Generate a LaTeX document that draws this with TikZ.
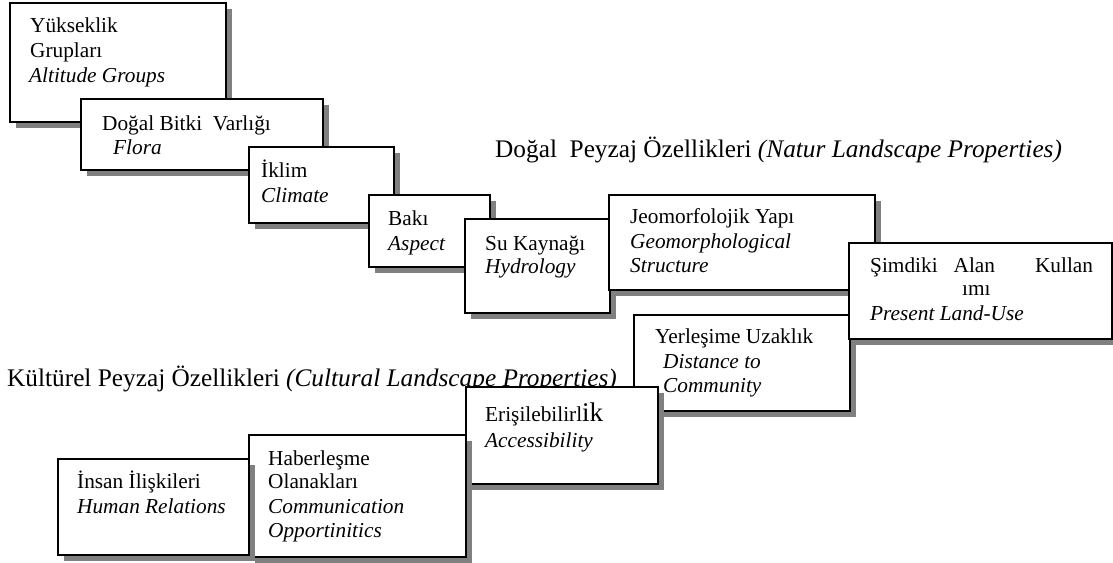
\documentclass[tikz,border=0pt]{standalone}
\usepackage{fontspec}
\setmainfont{Liberation Serif}
\usetikzlibrary{shadows}
\tikzset{
  box/.style={draw=black, line width=2.4pt, fill=white, anchor=north west, inner sep=0pt,
    drop shadow={shadow xshift=6pt, shadow yshift=-6pt, fill=black!50, opacity=1}},
  lbl/.style={anchor=base west, inner sep=0pt, font=\fontsize{21.3}{25}\selectfont},
  ttl/.style={anchor=base west, inner sep=0pt, font=\fontsize{25.3}{29}\selectfont},
}
\begin{document}
\begin{tikzpicture}[x=1pt,y=-1pt]
\useasboundingbox (0,0) rectangle (1113,562);

% titles
\node[ttl] (tnat) at (495,157) {Doğal\ \ Peyzaj Özellikleri \textit{(Natur Landscape Properties)}};
\node[ttl] (tcul) at (7,386) {Kültürel Peyzaj Özellikleri \textit{(Cultural Landscape Properties)}};

% cultural row (drawn right to left)
\node[box, minimum width=216pt, minimum height=96pt] (yer) at (633,314) {};
\node[lbl] (yer1) at (655,343) {Yerleşime Uzaklık};
\node[lbl] (yer2) at (663,368) {\itshape Distance to};
\node[lbl] (yer3) at (663,392) {\itshape Community};

\node[box, minimum width=192pt, minimum height=97pt] (eri) at (465,386) {};
\node[lbl] (eri1) at (485,421) {Erişilebilirl{\fontsize{27}{30}\selectfont ik}};
\node[lbl] (eri2) at (485,447) {\itshape Accessibility};

\node[box, minimum width=217pt, minimum height=122pt] (hab) at (248,434) {};
\node[lbl] (hab1) at (268,465) {Haberleşme};
\node[lbl] (hab2) at (268,488) {Olanakları};
\node[lbl] (hab3) at (268,513) {\itshape Communication};
\node[lbl] (hab4) at (268,537) {\itshape Opportinitics};

\node[box, minimum width=191pt, minimum height=96pt] (ins) at (57,458) {};
\node[lbl] (ins1) at (77,488) {İnsan İlişkileri};
\node[lbl] (ins2) at (77,513) {\itshape Human Relations};

% natural row (drawn left to right)
\node[box, minimum width=216pt, minimum height=119pt] (yuk) at (9,2) {};
\node[lbl] (yuk1) at (30,32) {Yükseklik};
\node[lbl] (yuk2) at (30,57) {Grupları};
\node[lbl] (yuk3) at (29,82) {\itshape Altitude Groups};

\node[box, minimum width=242pt, minimum height=71pt] (dog) at (80,98) {};
\node[lbl] (dog1) at (102,130) {Doğal Bitki\ \ Varlığı};
\node[lbl] (dog2) at (113,154) {\itshape Flora};

\node[box, minimum width=145pt, minimum height=76pt] (ikl) at (248,146) {};
\node[lbl] (ikl1) at (261,177) {İklim};
\node[lbl] (ikl2) at (261,202) {\itshape Climate};

\node[box, minimum width=121pt, minimum height=72pt] (bak) at (368,194) {};
\node[lbl] (bak1) at (388,225) {Bakı};
\node[lbl] (bak2) at (388,250) {\itshape Aspect};

\node[box, minimum width=145pt, minimum height=94pt] (suk) at (464,218) {};
\node[lbl] (suk1) at (485,250) {Su Kaynağı};
\node[lbl] (suk2) at (485,273) {\itshape Hydrology};

\node[box, minimum width=266pt, minimum height=95pt] (jeo) at (608,194) {};
\node[lbl] (jeo1) at (630,223) {Jeomorfolojik Yapı};
\node[lbl] (jeo2) at (630,248) {\itshape Geomorphological};
\node[lbl] (jeo3) at (630,272) {\itshape Structure};

\node[box, minimum width=263pt, minimum height=96pt] (sim) at (848,242) {};
\node[lbl] (sim1) at (870,272) {Şimdiki\hspace{16pt}Alan\hspace{40pt}Kullan};
\node[lbl] (sim2) at (962,295) {ımı};
\node[lbl] (sim3) at (870,320) {\itshape Present Land-Use};
\end{tikzpicture}
\end{document}
